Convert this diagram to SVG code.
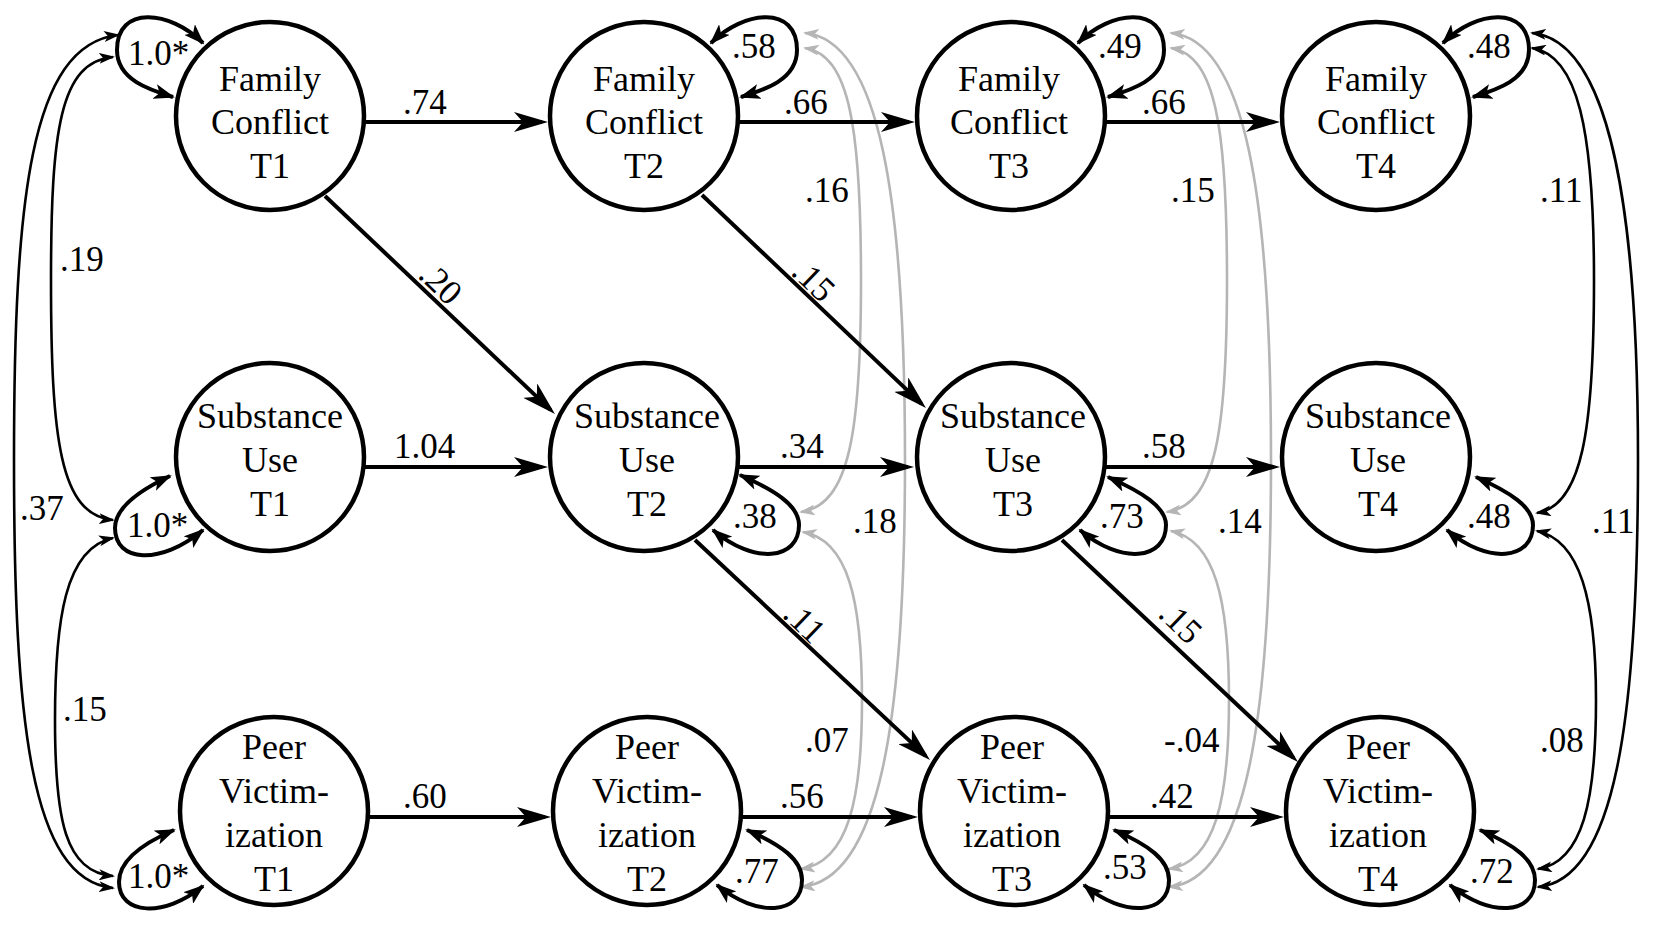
<svg xmlns="http://www.w3.org/2000/svg" width="1657" height="927" viewBox="0 0 1657 927">
<style>
  .nd circle { fill: #fff; stroke: #000; stroke-width: 4.5; }
  .nd text { font-family: "Liberation Serif", "Times New Roman", serif; font-size: 36px; text-anchor: middle; fill: #000; }
  .lb { font-family: "Liberation Serif", "Times New Roman", serif; font-size: 35px; fill: #000; }
  .pa { fill: none; stroke: #000; stroke-width: 4; marker-end: url(#ah); }
  .lp { fill: none; stroke: #000; stroke-width: 4; marker-start: url(#lh); marker-end: url(#lh); }
  .cv { fill: none; stroke: #000; stroke-width: 2.6; marker-start: url(#ch); marker-end: url(#ch); }
  .cg { fill: none; stroke: #b5b5b5; stroke-width: 2.6; marker-start: url(#cgh); marker-end: url(#cgh); }
</style>
<defs>
  <marker id="ah" viewBox="0 0 34 20" refX="28" refY="10" markerWidth="34" markerHeight="20" markerUnits="userSpaceOnUse" orient="auto"><path d="M0,0 L34,10 L0,20 L9,10 z" fill="#000"/></marker>
  <marker id="lh" viewBox="0 0 21 15" refX="19" refY="7.5" markerWidth="21" markerHeight="15" markerUnits="userSpaceOnUse" orient="auto-start-reverse"><path d="M0,0 L21,7.5 L0,15 L5,7.5 z" fill="#000"/></marker>
  <marker id="ch" viewBox="0 0 16 11" refX="14" refY="5.5" markerWidth="16" markerHeight="11" markerUnits="userSpaceOnUse" orient="auto-start-reverse"><path d="M0,0 L16,5.5 L0,11 L4,5.5 z" fill="#000"/></marker>
  <marker id="cgh" viewBox="0 0 16 11" refX="14" refY="5.5" markerWidth="16" markerHeight="11" markerUnits="userSpaceOnUse" orient="auto-start-reverse"><path d="M0,0 L16,5.5 L0,11 L4,5.5 z" fill="#b5b5b5"/></marker>
</defs>

<g id="connectors">
  <path class="cg" d="M805,48 C850,55 861,130 861,280 C861,430 850,505 801,512"/>
  <path class="cg" d="M805,33 C880,40 905,200 905,460 C905,720 880,880 801,887"/>
  <path class="cg" d="M803,532 C848,540 862,600 862,700 C862,800 848,862 801,869"/>
  <path class="cg" d="M1171,48 C1216,55 1227,130 1227,280 C1227,430 1216,505 1167,512"/>
  <path class="cg" d="M1171,33 C1246,40 1271,200 1271,460 C1271,720 1246,880 1169,887"/>
  <path class="cg" d="M1171,531 C1215,540 1229,600 1229,700 C1229,800 1215,862 1169,869"/>
  <path class="cv" d="M118,35 C30,45 14,200 14,460 C14,720 30,880 113,888"/>
  <path class="cv" d="M113,57 C60,62 51,130 51,280 C51,440 60,515 113,520"/>
  <path class="cv" d="M113,538 C65,548 55,620 55,720 C55,820 65,872 113,876"/>
  <path class="cv" d="M1532,48 C1578,55 1594,130 1594,280 C1594,430 1582,506 1537,513"/>
  <path class="cv" d="M1532,33 C1608,40 1638,200 1638,460 C1638,720 1615,880 1538,887"/>
  <path class="cv" d="M1537,531 C1580,540 1596,600 1596,700 C1596,800 1583,862 1538,869"/>
  <path class="pa" d="M364,122 L542,122"/>
  <path class="pa" d="M738,122 L909,122"/>
  <path class="pa" d="M1105,122 L1274,122"/>
  <path class="pa" d="M363,467 L542,467"/>
  <path class="pa" d="M737,467 L908,467"/>
  <path class="pa" d="M1104,467 L1274,467"/>
  <path class="pa" d="M368,817 L545,817"/>
  <path class="pa" d="M741,817 L912,817"/>
  <path class="pa" d="M1108,817 L1278,817"/>
  <path class="pa" d="M325,196 L550.6,409.9"/>
  <path class="pa" d="M702,195 L921.6,403.9"/>
  <path class="pa" d="M695,540 L925.6,755.9"/>
  <path class="pa" d="M1062,540 L1293.6,757.9"/>
  <path class="lp" d="M203,43 C170,10 117,5 117,50 C117,80 150,90 173,97"/>
  <path class="lp" d="M170,476 C138,491 115,508 115,528 C115,562 160,566 203,530"/>
  <path class="lp" d="M174,830 C139,845 119,862 119,882 C119,915 164,918 203,886"/>
  <path class="lp" d="M711,43 C744,10 797,5 797,50 C797,80 764,90 741,97"/>
  <path class="lp" d="M1078,43 C1111,10 1164,5 1164,50 C1164,80 1131,90 1108,97"/>
  <path class="lp" d="M1443,43 C1476,10 1529,5 1529,50 C1529,80 1496,90 1473,97"/>
  <path class="lp" d="M740,475 C774,490 799,505 799,525 C799,560 754,565 713,530"/>
  <path class="lp" d="M1108,477 C1142,492 1166,507 1166,525 C1166,560 1121,565 1080,530"/>
  <path class="lp" d="M1476,477 C1510,492 1533,507 1533,525 C1533,560 1488,565 1447,530"/>
  <path class="lp" d="M747,830 C782,845 802,860 802,880 C802,915 757,918 717,885"/>
  <path class="lp" d="M1114,830 C1149,845 1169,860 1169,880 C1169,915 1124,918 1084,885"/>
  <path class="lp" d="M1480,830 C1515,845 1535,860 1535,880 C1535,915 1490,918 1450,885"/>
</g>

<g id="labels">
  <text class="lb" x="128" y="65">1.0*</text>
  <text class="lb" x="127" y="537">1.0*</text>
  <text class="lb" x="128" y="888">1.0*</text>
  <text class="lb" x="732" y="58">.58</text>
  <text class="lb" x="1098" y="58">.49</text>
  <text class="lb" x="1467" y="58">.48</text>
  <text class="lb" x="733" y="528">.38</text>
  <text class="lb" x="1100" y="528">.73</text>
  <text class="lb" x="1467" y="528">.48</text>
  <text class="lb" x="735" y="883">.77</text>
  <text class="lb" x="1103" y="879">.53</text>
  <text class="lb" x="1470" y="883">.72</text>
  <text class="lb" x="60" y="271">.19</text>
  <text class="lb" x="20" y="520">.37</text>
  <text class="lb" x="63" y="721">.15</text>
  <text class="lb" x="403" y="114">.74</text>
  <text class="lb" x="784" y="114">.66</text>
  <text class="lb" x="1142" y="114">.66</text>
  <text class="lb" x="394" y="458">1.04</text>
  <text class="lb" x="780" y="458">.34</text>
  <text class="lb" x="1142" y="458">.58</text>
  <text class="lb" x="403" y="808">.60</text>
  <text class="lb" x="780" y="808">.56</text>
  <text class="lb" x="1150" y="808">.42</text>
  <text class="lb" x="805" y="202">.16</text>
  <text class="lb" x="1171" y="202">.15</text>
  <text class="lb" x="1540" y="202">.11</text>
  <text class="lb" x="853" y="533">.18</text>
  <text class="lb" x="1218" y="533">.14</text>
  <text class="lb" x="1592" y="533">.11</text>
  <text class="lb" x="805" y="752">.07</text>
  <text class="lb" x="1164" y="752">-.04</text>
  <text class="lb" x="1540" y="752">.08</text>
  <text class="lb" transform="translate(441,283) rotate(44)" text-anchor="middle" y="12">.20</text>
  <text class="lb" transform="translate(814,280) rotate(44)" text-anchor="middle" y="12">.15</text>
  <text class="lb" transform="translate(805,622) rotate(44)" text-anchor="middle" y="12">.11</text>
  <text class="lb" transform="translate(1181,622) rotate(44)" text-anchor="middle" y="12">.15</text>
</g>

<g id="fc1" class="nd"><circle cx="270" cy="116" r="94"/><text x="270" y="91">Family</text><text x="270" y="134">Conflict</text><text x="270" y="178">T1</text></g>
<g id="fc2" class="nd"><circle cx="644" cy="116" r="94"/><text x="644" y="91">Family</text><text x="644" y="134">Conflict</text><text x="644" y="178">T2</text></g>
<g id="fc3" class="nd"><circle cx="1011" cy="116" r="94"/><text x="1009" y="91">Family</text><text x="1009" y="134">Conflict</text><text x="1009" y="178">T3</text></g>
<g id="fc4" class="nd"><circle cx="1376" cy="116" r="94"/><text x="1376" y="91">Family</text><text x="1376" y="134">Conflict</text><text x="1376" y="178">T4</text></g>

<g id="su1" class="nd"><circle cx="270" cy="457" r="94"/><text x="270" y="428">Substance</text><text x="270" y="472">Use</text><text x="270" y="516">T1</text></g>
<g id="su2" class="nd"><circle cx="644" cy="457" r="94"/><text x="647" y="428">Substance</text><text x="647" y="472">Use</text><text x="647" y="516">T2</text></g>
<g id="su3" class="nd"><circle cx="1011" cy="457" r="94"/><text x="1013" y="428">Substance</text><text x="1013" y="472">Use</text><text x="1013" y="516">T3</text></g>
<g id="su4" class="nd"><circle cx="1376" cy="457" r="94"/><text x="1378" y="428">Substance</text><text x="1378" y="472">Use</text><text x="1378" y="516">T4</text></g>

<g id="pv1" class="nd"><circle cx="274" cy="811" r="94"/><text x="274" y="759">Peer</text><text x="274" y="803">Victim-</text><text x="274" y="847">ization</text><text x="274" y="891">T1</text></g>
<g id="pv2" class="nd"><circle cx="647" cy="811" r="94"/><text x="647" y="759">Peer</text><text x="647" y="803">Victim-</text><text x="647" y="847">ization</text><text x="647" y="891">T2</text></g>
<g id="pv3" class="nd"><circle cx="1014" cy="811" r="94"/><text x="1012" y="759">Peer</text><text x="1012" y="803">Victim-</text><text x="1012" y="847">ization</text><text x="1012" y="891">T3</text></g>
<g id="pv4" class="nd"><circle cx="1380" cy="811" r="94"/><text x="1378" y="759">Peer</text><text x="1378" y="803">Victim-</text><text x="1378" y="847">ization</text><text x="1378" y="891">T4</text></g>
</svg>
